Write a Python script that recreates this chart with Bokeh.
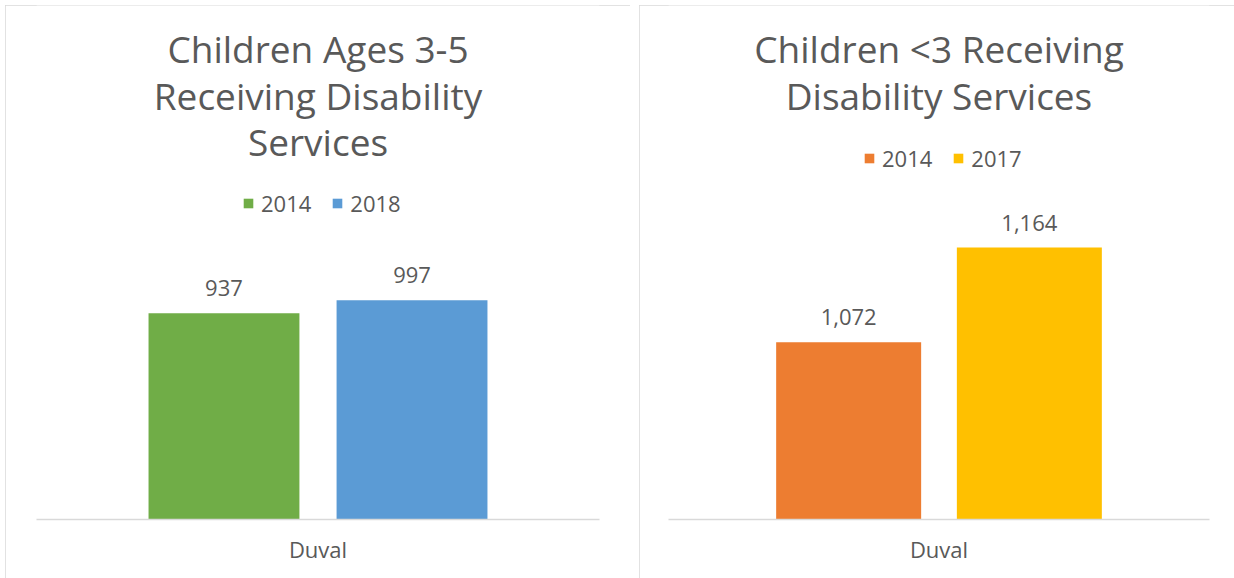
from bokeh.plotting import figure
from bokeh.models import FactorRange, Range1d, ColumnDataSource, LabelSet, Label, Legend, LegendItem
from bokeh.transform import dodge
from bokeh.layouts import row
from bokeh.core.properties import value
from bokeh.embed import file_html
from bokeh.resources import INLINE

# ---- data ----
category = ["Duval"]

left_title = ["Children Ages 3-5", "Receiving Disability", "Services"]
left_years = ["2014", "2018"]
left_values = [937, 997]
left_colors = ["#70AD47", "#5B9BD5"]
left_axis = (0, 1200)

right_title = ["Children <3 Receiving", "Disability Services"]
right_years = ["2014", "2017"]
right_values = [1072, 1164]
right_colors = ["#ED7D31", "#FFC000"]
right_axis = (900, 1200)

FONT = "Open Sans"
TXT = "#595959"
GRID = "#d9d9d9"


def panel(width, height, mb_left, mb_right, mb_bottom, axis_range, axis_px,
          titles, title_y, years, values, colors, legend_xy):
    ymin, ymax_nominal = axis_range
    frame_h = height - mb_bottom
    # extend the value range upward so the frame can hold title and legend
    ymax = ymin + (ymax_nominal - ymin) * frame_h / axis_px
    p = figure(width=width, height=height, output_backend="svg", toolbar_location=None,
               x_range=FactorRange(*category), y_range=Range1d(ymin, ymax),
               min_border_left=mb_left, min_border_right=mb_right,
               min_border_top=0, min_border_bottom=mb_bottom,
               background_fill_color="white", border_fill_color="white")
    p.styles = {"outline": f"1px solid {GRID}", "outline-offset": "-1px"}
    p.outline_line_color = None
    p.grid.visible = False
    p.yaxis.visible = False
    ax = p.xaxis[0]
    ax.axis_line_color = GRID
    ax.axis_line_width = 1.5
    ax.major_tick_line_color = None
    ax.minor_tick_line_color = None
    ax.major_label_text_font = FONT
    ax.major_label_text_font_size = "22px"
    ax.major_label_text_color = TXT
    ax.major_label_standoff = 8

    offsets = [-0.167, 0.167]
    items = []
    for yr, v, c, off in zip(years, values, colors, offsets):
        src = ColumnDataSource(dict(cat=category, val=[v], lbl=[f"{v:,}"]))
        xx = dodge("cat", off, range=p.x_range)
        r = p.vbar(x=xx, top="val", bottom=ymin, width=0.268, fill_color=c,
                   line_color=None, source=src)
        items.append(LegendItem(label=yr, renderers=[r]))
        p.add_layout(LabelSet(x=xx, y="val", text="lbl", source=src, y_offset=25,
                              text_align="center", text_baseline="middle",
                              text_font=value(FONT), text_font_size="22px",
                              text_color=TXT))

    fw = width - mb_left - mb_right
    for t, ty in zip(titles, title_y):
        p.add_layout(Label(x=fw / 2, y=ty, x_units="screen", y_units="screen", text=t,
                           text_align="center", text_baseline="middle",
                           text_font=FONT, text_font_size="37px", text_color=TXT))

    leg = Legend(items=items, orientation="horizontal", location=legend_xy,
                 glyph_width=12, glyph_height=12, label_standoff=7, spacing=20,
                 padding=0, margin=0, border_line_color=None, background_fill_alpha=0,
                 label_text_font=FONT, label_text_font_size="22px",
                 label_text_color=TXT, label_height=24)
    p.add_layout(leg)
    return p


left = panel(625, 573, 31, 31, 59, left_axis, 264,
             left_title, [471, 424, 378], left_years, left_values, left_colors,
             (206, 301))
right = panel(595, 573, 29, 25, 59, right_axis, 309,
              right_title, [471, 424], right_years, right_values, right_colors,
              (195, 346))

layout = row(left, right, spacing=9)
layout.margin = (5, 0, 0, 5)
open("out.html", "w").write(file_html(layout, INLINE))
